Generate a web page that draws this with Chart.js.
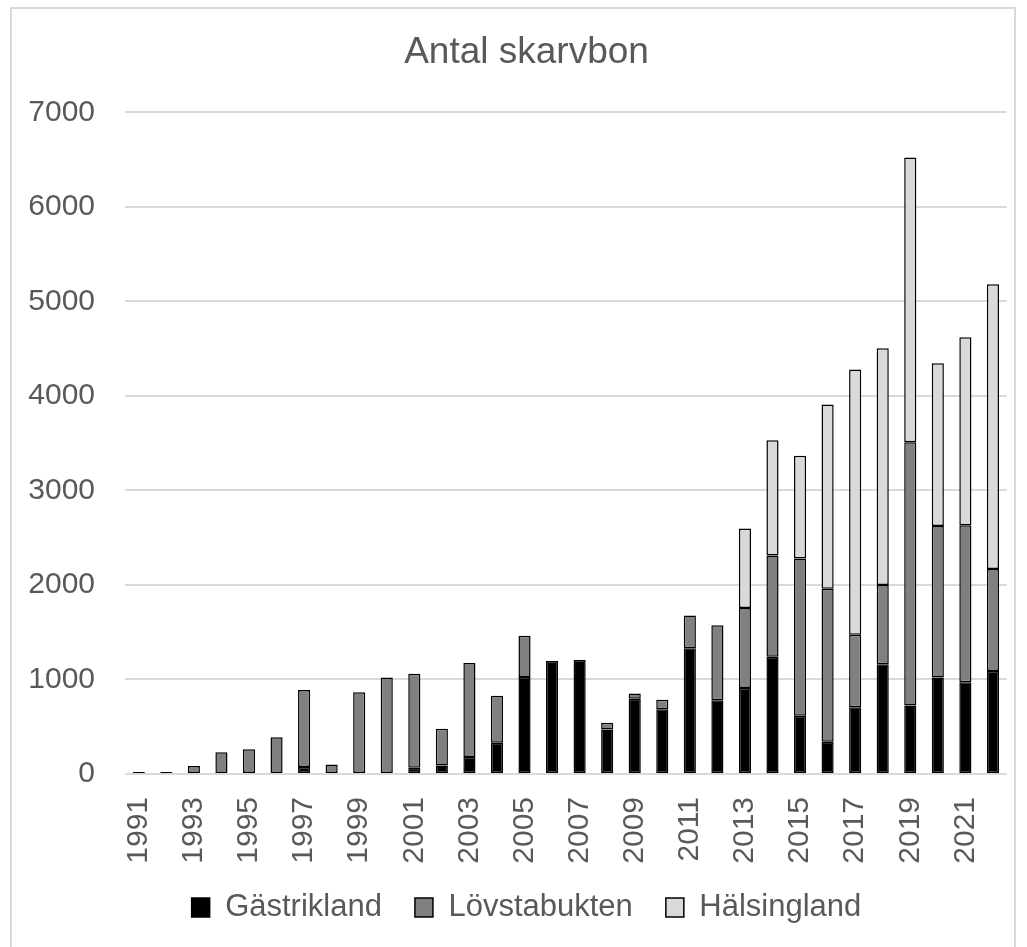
<!DOCTYPE html>
<html lang="sv">
<head>
    <meta charset="UTF-8">
    <title>Antal skarvbon</title>
    <script src="https://cdn.jsdelivr.net/npm/chart.js"></script>
    <style>
        body { margin: 0; background: #fff; }
        #wrap { position: relative; width: 1027px; height: 947px; overflow: hidden; }
        #frame { position: absolute; left: 10px; top: 7px; width: 1006px; height: 960px; border: 2px solid #d9d9d9; box-sizing: border-box; }
        #chart { position: absolute; left: 0; top: 0; }
    </style>
</head>
<body>
    <div id="wrap">
        <div id="frame"></div>
        <canvas id="chart" width="1027" height="947"></canvas>
    </div>

    <script>
        // Data
        const years = ['1991','1992','1993','1994','1995','1996','1997','1998','1999','2000',
                       '2001','2002','2003','2004','2005','2006','2007','2008','2009','2010',
                       '2011','2012','2013','2014','2015','2016','2017','2018','2019','2020',
                       '2021','2022'];
        const gastrikland = [0, 0, 0, 0, 0, 0, 75, 0, 0, 0,
                             65, 90, 180, 330, 1025, 1195, 1205, 470, 795, 685,
                             1330, 780, 910, 1240, 615, 340, 705, 1160, 725, 1020,
                             970, 1090];
        const lovstabukten = [20, 20, 85, 230, 262, 388, 815, 100, 866, 1020,
                              997, 388, 995, 497, 439, 0, 0, 72, 56, 100,
                              347, 795, 846, 1073, 1666, 1620, 769, 839, 2784, 1605,
                              1662, 1078];
        const halsingland = [0, 0, 0, 0, 0, 0, 0, 0, 0, 0,
                             0, 0, 0, 0, 0, 0, 0, 0, 0, 0,
                             0, 0, 842, 1217, 1087, 1950, 2806, 2506, 3013, 1721,
                             1989, 3013];
        const yTicks = [0, 1000, 2000, 3000, 4000, 5000, 6000, 7000];

        const textGray = '#595959';
        const gridGray = '#d9d9d9';

        // zero-height segments should not leave a border line
        const noZero = arr => arr.map(v => v === 0 ? null : v);

        function makeSet(label, values, fill) {
            return {
                label: label,
                data: noZero(values),
                backgroundColor: fill,
                borderColor: '#000000',
                borderWidth: 1.5,
                borderSkipped: false,
                barPercentage: 0.44,
                categoryPercentage: 1.0
            };
        }

        const ctx = document.getElementById('chart').getContext('2d');
        const chart = new Chart(ctx, {
            type: 'bar',
            data: {
                labels: years,
                datasets: [
                    makeSet('Gästrikland', gastrikland, '#000000'),
                    makeSet('Lövstabukten', lovstabukten, '#808080'),
                    makeSet('Hälsingland', halsingland, '#d9d9d9')
                ]
            },
            options: {
                responsive: false,
                animation: false,
                layout: { padding: { left: 28, right: 2, top: 0, bottom: 14 } },
                plugins: {
                    title: {
                        display: true,
                        text: 'Antal skarvbon',
                        color: textGray,
                        font: { family: 'Liberation Sans', size: 37, weight: 'normal' },
                        padding: { top: 31, bottom: 37 }
                    },
                    legend: {
                        position: 'bottom',
                        labels: {
                            color: textGray,
                            font: { family: 'Liberation Sans', size: 31 },
                            boxWidth: 18,
                            boxHeight: 19,
                            padding: 33
                        }
                    },
                    tooltip: { enabled: false }
                },
                scales: {
                    x: {
                        stacked: true,
                        grid: { display: false },
                        border: { display: false },
                        afterFit: axis => {
                            axis.paddingLeft = 0;
                            axis.paddingRight = 20.3;
                            axis.height = 85;
                            // let the year labels reach into the legend's top padding
                            axis._computeLabelArea = () => undefined;
                        },
                        ticks: {
                            color: textGray,
                            font: { family: 'Liberation Sans', size: 30 },
                            autoSkip: false,
                            minRotation: 90,
                            maxRotation: 90,
                            padding: 15,
                            callback: function(val, i) { return i % 2 === 0 ? years[i] : ''; }
                        }
                    },
                    y: {
                        stacked: true,
                        min: 0,
                        max: 7000,
                        afterBuildTicks: axis => { axis.ticks = yTicks.map(v => ({ value: v })); },
                        afterFit: axis => { axis.width = 97; },
                        grid: { color: gridGray, lineWidth: 2, drawTicks: false },
                        border: { display: false },
                        ticks: {
                            color: textGray,
                            font: { family: 'Liberation Sans', size: 30 },
                            padding: 30,
                            callback: v => String(v)
                        }
                    }
                }
            }
        });
    </script>
</body>
</html>
